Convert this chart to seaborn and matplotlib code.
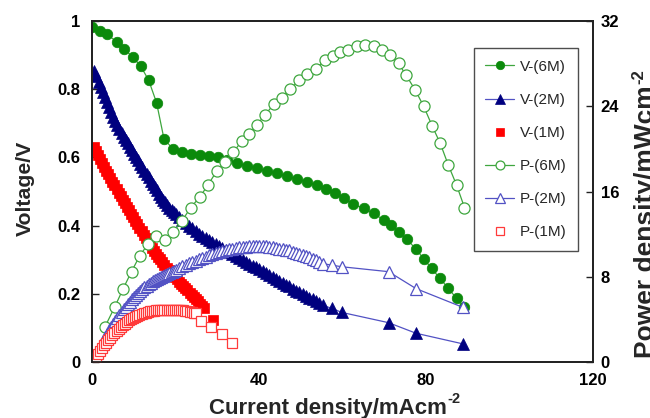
import matplotlib
matplotlib.use("Agg")
import matplotlib.pyplot as plt
import seaborn as sns

# ---------------- data ----------------
v6_x = [0, 1.8, 3.5, 5.8, 7.7, 9.7, 11.6, 13.5, 15.4, 17.2, 19.4, 21.4, 23.6, 25.8,
        28.0, 30.2, 32.4, 34.6, 37.0, 39.4, 41.8, 44.2, 46.6, 49.0, 51.4, 53.8,
        56.0, 58.2, 60.4, 62.6, 65.0, 67.4, 69.8, 71.6, 73.4, 75.4, 77.6, 79.5,
        81.3, 83.3, 85.3, 87.3, 89.1]
v6_v = [0.982, 0.971, 0.960, 0.939, 0.917, 0.893, 0.867, 0.826, 0.760, 0.653, 0.624,
        0.617, 0.611, 0.607, 0.604, 0.600, 0.593, 0.584, 0.576, 0.568, 0.561, 0.553,
        0.545, 0.537, 0.529, 0.518, 0.507, 0.495, 0.480, 0.462, 0.451, 0.436, 0.417,
        0.402, 0.382, 0.360, 0.331, 0.302, 0.275, 0.246, 0.217, 0.187, 0.161]

v2_x = [0.5, 1.0, 1.5, 2.0, 2.5, 3.0, 3.5, 4.0, 4.5, 5.0, 5.5, 6.0, 6.5, 7.0, 7.5,
        8.0, 8.5, 9.0, 9.5, 10.0, 10.5, 11.0, 11.5, 12.0, 12.5, 13.0, 13.5, 14.0,
        14.5, 15.0, 15.5, 16.0, 16.5, 17.0, 17.5, 18.0, 18.5, 19.0, 19.5, 20.0,
        20.8, 21.6, 22.4, 23.2, 24.0, 24.8, 25.6, 26.4, 27.2, 28.0, 28.8, 29.6,
        30.4, 31.2, 32.0, 32.8, 33.6, 34.4, 35.2, 36.0, 36.8, 37.6, 38.4, 39.2,
        40.0, 40.8, 41.6, 42.4, 43.2, 44.0, 44.8, 45.6, 46.4, 47.2, 48.0, 48.8,
        49.6, 50.4, 51.2, 52.0, 52.8, 53.6, 54.4, 55.2, 57.4, 59.8, 71.0, 77.6, 88.8]
v2_v = [0.852, 0.838, 0.822, 0.806, 0.791, 0.776, 0.761, 0.747, 0.733, 0.719, 0.706,
        0.694, 0.683, 0.672, 0.661, 0.651, 0.641, 0.631, 0.621, 0.611, 0.601, 0.591,
        0.581, 0.571, 0.561, 0.551, 0.541, 0.531, 0.522, 0.512, 0.503, 0.494, 0.485,
        0.476, 0.468, 0.460, 0.453, 0.446, 0.439, 0.433,
        0.424, 0.416, 0.408, 0.400, 0.392, 0.384, 0.377, 0.370, 0.364, 0.358,
        0.352, 0.347, 0.341, 0.335, 0.329, 0.323, 0.317, 0.312, 0.306, 0.300,
        0.294, 0.289, 0.283, 0.278, 0.272, 0.266, 0.261, 0.255, 0.250, 0.244,
        0.238, 0.233, 0.227, 0.222, 0.216, 0.210, 0.205, 0.199, 0.194, 0.189,
        0.184, 0.178, 0.173, 0.167, 0.158, 0.146, 0.116, 0.085, 0.054]

v1_x = [0.3, 0.8, 1.3, 1.8, 2.3, 2.8, 3.3, 3.8, 4.3, 4.8, 5.3, 5.8, 6.3, 6.8, 7.3,
        7.8, 8.3, 8.8, 9.3, 9.8, 10.3, 10.8, 11.3, 11.8, 12.3, 12.8, 13.3, 13.8,
        14.3, 14.8, 15.3, 15.8, 16.3, 16.8, 17.3, 17.8, 18.3, 18.8, 19.3, 19.8,
        20.3, 20.8, 21.3, 21.8, 22.3, 22.8, 23.3, 23.8, 24.3, 24.8, 25.3, 25.8,
        26.3, 26.8, 29.0]
v1_v = [0.630, 0.619, 0.608, 0.596, 0.584, 0.573, 0.561, 0.550, 0.539, 0.529, 0.518,
        0.507, 0.496, 0.486, 0.476, 0.465, 0.455, 0.445, 0.434, 0.424, 0.414, 0.404,
        0.394, 0.384, 0.374, 0.364, 0.355, 0.345, 0.336, 0.327, 0.318, 0.309, 0.301,
        0.293, 0.285, 0.277, 0.270, 0.263, 0.256, 0.249, 0.243, 0.236, 0.230, 0.224,
        0.217, 0.211, 0.204, 0.198, 0.191, 0.185, 0.178, 0.172, 0.165, 0.159, 0.125]

p6_x = [3.0, 5.4, 7.4, 9.4, 11.4, 13.4, 15.3, 17.4, 19.4, 21.4, 23.6, 25.8, 27.7,
        29.8, 31.8, 33.8, 35.8, 37.6, 39.4, 41.4, 43.6, 45.4, 47.4, 49.6, 51.5, 53.5,
        55.8, 57.6, 59.4, 61.4, 63.4, 65.4, 67.4, 69.4, 71.4, 73.4, 75.2, 77.4, 79.4,
        81.5, 83.4, 85.3, 87.3, 89.2]
p6_p = [3.3, 5.2, 6.9, 8.5, 10.0, 11.1, 11.8, 11.5, 12.2, 13.2, 14.5, 15.5, 16.6,
        17.9, 18.8, 19.7, 20.7, 21.4, 22.2, 23.2, 24.2, 24.8, 25.6, 26.4, 27.0, 27.5,
        28.3, 28.7, 29.1, 29.3, 29.6, 29.7, 29.6, 29.3, 28.8, 28.0, 26.9, 25.5, 24.0,
        22.1, 20.5, 18.5, 16.6, 14.5]

p2_x = v2_x
p2_p = [0.43, 0.84, 1.23, 1.61, 1.98, 2.33, 2.66, 2.99, 3.30, 3.60, 3.88, 4.16, 4.44,
        4.70, 4.96, 5.21, 5.45, 5.68, 5.90, 6.11, 6.31, 6.50, 6.68, 6.85, 7.01, 7.16,
        7.30, 7.43, 7.57, 7.68, 7.80, 7.90, 8.00, 8.09, 8.19, 8.28, 8.38, 8.47, 8.56,
        8.66,
        8.82, 8.99, 9.14, 9.28, 9.41, 9.52, 9.65, 9.77, 9.90, 10.02,
        10.14, 10.27, 10.37, 10.45, 10.53, 10.59, 10.65, 10.73, 10.77, 10.80,
        10.82, 10.87, 10.87, 10.90, 10.88, 10.85, 10.86, 10.81, 10.80, 10.74,
        10.66, 10.62, 10.53, 10.48, 10.37, 10.25, 10.17, 10.03, 9.93, 9.83,
        9.72, 9.54, 9.41, 9.25, 9.10, 8.95, 8.49, 6.90, 5.15]

p1_x = [0.3, 0.8, 1.3, 1.8, 2.3, 2.8, 3.3, 3.8, 4.3, 4.8, 5.3, 5.8, 6.3, 6.8, 7.3,
        7.8, 8.3, 8.8, 9.3, 9.8, 10.3, 10.8, 11.3, 11.8, 12.3, 12.8, 13.3, 13.8,
        14.3, 14.8, 15.3, 15.8, 16.3, 16.8, 17.3, 17.8, 18.3, 18.8, 19.3, 19.8,
        20.3, 20.8, 21.3, 21.8, 22.3, 22.8, 23.3, 23.8, 24.3, 24.8,
        26.0, 28.4, 31.0, 33.4]
p1_p = [0.19, 0.50, 0.79, 1.07, 1.34, 1.60, 1.85, 2.09, 2.32, 2.54, 2.75, 2.94, 3.12,
        3.30, 3.47, 3.63, 3.78, 3.92, 4.04, 4.16, 4.26, 4.36, 4.45, 4.53, 4.60, 4.66,
        4.72, 4.76, 4.80, 4.84, 4.87, 4.88, 4.91, 4.92, 4.93, 4.93, 4.94, 4.94, 4.94,
        4.93, 4.93, 4.91, 4.90, 4.88, 4.84, 4.81, 4.75, 4.71, 4.64, 4.59,
        3.90, 3.30, 2.65, 1.85]

x_ticks = [0, 40, 80, 120]
v_ticks = [0, 0.2, 0.4, 0.6, 0.8, 1.0]
v_tick_labels = ["0", "0.2", "0.4", "0.6", "0.8", "1"]
p_ticks = [0, 8, 16, 24, 32]

# ---------------- style ----------------
sns.set_theme(style="white")
plt.rcParams["font.family"] = ["Liberation Sans", "DejaVu Sans"]

GREEN = "#0b8a0b"
GREEN_L = "#3ea63e"
NAVY = "#00007f"
BLUE_L = "#5252c4"
RED = "#ff0000"
RED_L = "#ff3a3a"

W, H = 650, 418
fig = plt.figure(figsize=(6.5, 4.18), dpi=100)
L, R, T, B = 92.3, 593.0, 20.7, 362.3
ax = fig.add_axes([L / W, 1 - B / H, (R - L) / W, (B - T) / H])
ax2 = ax.twinx()

sns.lineplot(x=v6_x, y=v6_v, ax=ax, sort=False, estimator=None, color=GREEN_L, lw=0.9,
             marker="o", markersize=7.6, markerfacecolor=GREEN, markeredgecolor=GREEN,
             markeredgewidth=0.5, label="V-(6M)")
sns.lineplot(x=v2_x, y=v2_v, ax=ax, sort=False, estimator=None, color=BLUE_L, lw=0.9,
             marker="^", markersize=8.4, markerfacecolor=NAVY, markeredgecolor=NAVY,
             markeredgewidth=0.5, label="V-(2M)")
sns.lineplot(x=v1_x, y=v1_v, ax=ax, sort=False, estimator=None, color=RED,
             linestyle="None", marker="s", markersize=7.6, markerfacecolor=RED,
             markeredgecolor=RED, markeredgewidth=0.5, label="V-(1M)")

sns.lineplot(x=p6_x, y=p6_p, ax=ax2, sort=False, estimator=None, color=GREEN_L, lw=0.9,
             marker="o", markersize=8.0, markerfacecolor="white", markeredgecolor=GREEN_L,
             markeredgewidth=0.9, label="P-(6M)")
sns.lineplot(x=p2_x, y=p2_p, ax=ax2, sort=False, estimator=None, color=BLUE_L, lw=0.9,
             marker="^", markersize=8.4, markerfacecolor="white", markeredgecolor=BLUE_L,
             markeredgewidth=0.9, label="P-(2M)")
sns.lineplot(x=p1_x, y=p1_p, ax=ax2, sort=False, estimator=None, color=RED_L,
             linestyle="None", marker="s", markersize=7.8, markerfacecolor="white",
             markeredgecolor=RED_L, markeredgewidth=0.9, label="P-(1M)")

ax.set_xlim(0, 120)
ax.set_ylim(0, 1)
ax2.set_ylim(0, 32)
ax.set_xticks(x_ticks)
ax.set_xticklabels([str(t) for t in x_ticks])
ax.set_yticks(v_ticks)
ax.set_yticklabels(v_tick_labels)
ax2.set_yticks(p_ticks)
ax2.set_yticklabels([str(t) for t in p_ticks])
ax.set_xlabel("")
ax.set_ylabel("")
ax2.set_ylabel("")

for a in (ax, ax2):
    for s in a.spines.values():
        s.set_color("#222222")
        s.set_linewidth(1.3)
ax.tick_params(axis="both", direction="in", length=5, width=1, colors="#222222",
               labelsize=12, labelcolor="black")
ax.tick_params(axis="y", pad=8.5)
ax.tick_params(axis="x", pad=7.5)
ax2.tick_params(axis="y", direction="in", length=5, width=1, colors="#222222",
                labelsize=12, labelcolor="black", pad=5.5)
for lab in ax.get_xticklabels() + ax.get_yticklabels() + ax2.get_yticklabels():
    lab.set_fontweight("bold")

# legend
if ax.get_legend() is not None:
    ax.get_legend().remove()
h1, l1 = ax.get_legend_handles_labels()
h2, l2 = ax2.get_legend_handles_labels()
leg = ax2.legend(h1 + h2, l1 + l2, loc="upper right",
                 bbox_to_anchor=((577.7 - L) / (R - L), (B - 48.3) / (B - T)),
                 borderaxespad=0, frameon=True, fancybox=False, fontsize=11,
                 markerscale=0.8, handlelength=1.9, handletextpad=0.35,
                 labelspacing=1.25, borderpad=0.75)
leg.get_frame().set_edgecolor("#222222")
leg.get_frame().set_linewidth(1.0)

# axis titles (drawn as figure texts, with hyphen superscripts)
fig.text(16 / W, 1 - 188 / H, "Voltage/V", rotation=90, ha="left", va="center",
         fontsize=15.3, fontweight="bold")
xl = fig.text(209 / W, 1 - 414 / H, "Current density/mAcm", ha="left",
              va="baseline", fontsize=16, fontweight="bold")
yl = fig.text(634 / W, 1 - 358 / H, "Power density/mWcm", rotation=90,
              ha="left", va="bottom", fontsize=19, fontweight="bold")
fig.canvas.draw()
r = fig.canvas.get_renderer()
bx = xl.get_window_extent(r)
fig.text((bx.x1 + 1) / W, (H - 414 + 11) / H, "-2", ha="left", va="baseline",
         fontsize=10.5, fontweight="bold")
by = yl.get_window_extent(r)
fig.text(631 / W, (by.y1 + 1) / H, "-2", rotation=90, ha="left", va="bottom",
         fontsize=12, fontweight="bold")

fig.savefig("out.png", dpi=100)
